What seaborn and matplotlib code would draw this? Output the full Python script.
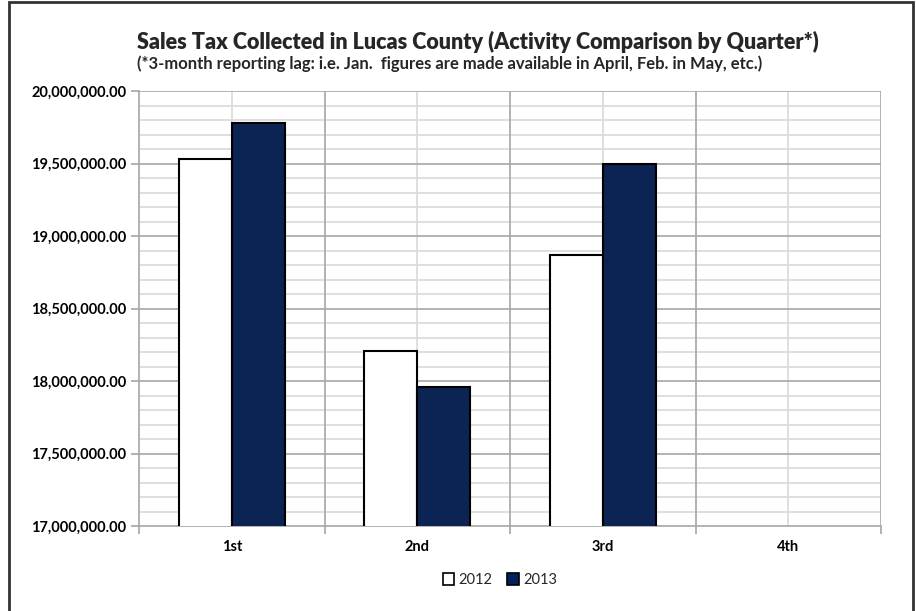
import matplotlib
matplotlib.use("Agg")
import matplotlib.pyplot as plt
import seaborn as sns
import pandas as pd
from matplotlib.patches import Rectangle, Patch
from matplotlib.ticker import MultipleLocator, FuncFormatter, FixedLocator

quarters = ["1st", "2nd", "3rd", "4th"]
years = ["2012", "2013"]
sales_2012 = [19530000, 18210000, 18870000]
sales_2013 = [19777000, 17957000, 19497000]
colors = {"2012": "#FFFFFF", "2013": "#002060"}

rows = []
for q, v in zip(quarters, sales_2012):
    rows.append({"Quarter": q, "Year": "2012", "Sales": v})
for q, v in zip(quarters, sales_2013):
    rows.append({"Quarter": q, "Year": "2013", "Sales": v})
df = pd.DataFrame(rows)

sns.set_style("white")
plt.rcParams["font.family"] = ["Lato", "DejaVu Sans"]

fig = plt.figure(figsize=(9.16, 6.11), dpi=100)
ax = fig.add_axes([139/916, 1-526/611, (881-139)/916, (526-91)/611])

sns.barplot(data=df, x="Quarter", y="Sales", hue="Year", order=quarters,
            hue_order=years, palette=colors, width=0.57, edgecolor="black",
            linewidth=1.5, ax=ax, legend=False, zorder=3)

ax.set_ylim(17000000, 20000000)
ax.set_xlim(-0.5, 3.5)
ax.yaxis.set_major_locator(MultipleLocator(500000))
ax.yaxis.set_minor_locator(MultipleLocator(100000))
ax.yaxis.set_major_formatter(FuncFormatter(lambda v, p: f"{v:,.2f}"))

ax.set_xticks([0, 1, 2, 3])
ax.set_xticklabels(quarters)
ax.xaxis.set_minor_locator(FixedLocator([-0.5, 0.5, 1.5, 2.5, 3.5]))

ax.grid(False)
ax.set_axisbelow(True)
for y in range(17100000, 20000001, 100000):
    if y % 500000 != 0:
        ax.axhline(y, color="#D9D9D9", lw=1.2, zorder=0)
for y in range(17500000, 20000001, 500000):
    ax.axhline(y, color="#A6A6A6", lw=1.2, zorder=1)
for x in [0, 1, 2, 3]:
    ax.axvline(x, color="#D9D9D9", lw=1.2, zorder=0)
for x in [0.5, 1.5, 2.5, 3.5]:
    ax.axvline(x, color="#A6A6A6", lw=1.2, zorder=1)

for s in ["top", "right"]:
    ax.spines[s].set_visible(False)
for s in ["left", "bottom"]:
    ax.spines[s].set_color("#A6A6A6")
    ax.spines[s].set_linewidth(1.2)

ax.tick_params(axis="y", which="major", length=6, width=1.2, color="#A6A6A6",
               direction="out", left=True, labelsize=10.5, pad=3)
ax.tick_params(axis="y", which="minor", length=0)
ax.tick_params(axis="x", which="major", length=0, labelsize=10.5, pad=10)
ax.tick_params(axis="x", which="minor", length=6, width=1.2, color="#A6A6A6",
               direction="out", bottom=True)
for lab in ax.get_yticklabels() + ax.get_xticklabels():
    lab.set_fontweight("bold")
    lab.set_color("black")
ax.set_xlabel("")
ax.set_ylabel("")

fig.text(137/916, 1-42/611, "Sales Tax Collected in Lucas County (Activity Comparison by Quarter*)",
         fontsize=15.5, fontweight="heavy", ha="left", va="center")
fig.text(137/916, 1-64/611, "(*3-month reporting lag: i.e. Jan.  figures are made available in April, Feb. in May, etc.)",
         fontsize=12, fontweight="bold", ha="left", va="center")

handles = [Patch(facecolor=colors[y], edgecolor="black", linewidth=1.2, label=y) for y in years]
fig.legend(handles=handles, loc="center", bbox_to_anchor=(500/916, 1-580/611), ncol=2,
           frameon=False, fontsize=10.5, handlelength=0.8, handleheight=0.8,
           handletextpad=0.3, columnspacing=1.0)

fig.patches.append(Rectangle((9/916, -0.01), (913-9)/916, 1-2/611 + 0.01,
                             transform=fig.transFigure, fill=False,
                             edgecolor="#333333", linewidth=2, figure=fig))

fig.savefig("out.png", dpi=100)
